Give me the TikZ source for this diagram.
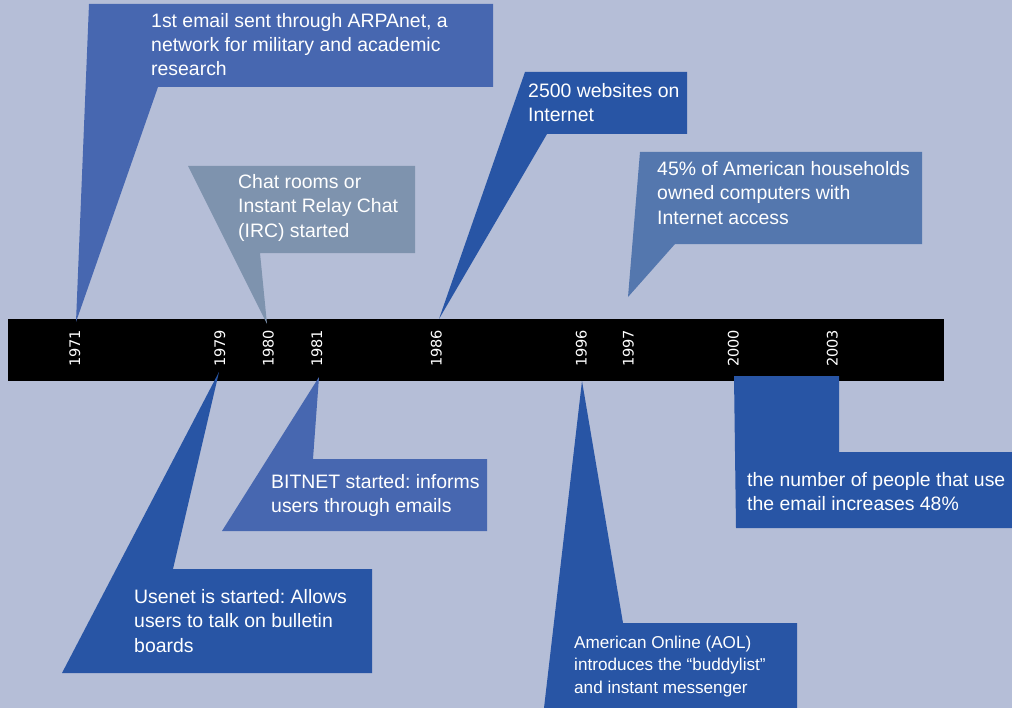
\documentclass[tikz,border=0pt]{standalone}
\usepackage{fontspec}
\setmainfont{Liberation Sans}
\newfontfamily\yearfont{DejaVu Sans}
\usepackage{xcolor}
\usepackage{tikz}
\frenchspacing

\definecolor{bgblue}{HTML}{B5BED7}
\definecolor{midblue}{HTML}{4767B0}
\definecolor{greyblue}{HTML}{7E93AE}
\definecolor{deepblue}{HTML}{2855A5}
\definecolor{softblue}{HTML}{5477AE}

\begin{document}
\begin{tikzpicture}[x=1bp,y=-1bp,
    note/.style={text=white,anchor=base west,align=left,inner sep=0pt,font=\fontsize{19.5}{24.5}\selectfont},
    smallnote/.style={note,font=\fontsize{17.2}{22.7}\selectfont},
    year/.style={text=white,rotate=90,anchor=mid west,inner sep=0pt,font=\yearfont\fontsize{14.6}{14.6}\selectfont}]
            \useasboundingbox (0,0) rectangle (1012,708);
            \fill[bgblue] (0,0) rectangle (1012,708);
            \fill[black] (8,319) rectangle (944,381);

            \draw (76,322) coordinate (t1971);
            \draw (219,372) coordinate (t1979);
            \draw (267,324) coordinate (t1980);
            \draw (319,377) coordinate (t1981);
            \draw (439,319) coordinate (t1986);
            \draw (582,381) coordinate (t1996);
            \draw (628,297) coordinate (t1997);

            \fill[midblue] (89,4)--(493,4)--(493,87)--(158,87)--(t1971)--cycle;
            \fill[greyblue] (188,166)--(415,166)--(415,253)--(260,253)--(t1980)--cycle;
            \fill[deepblue] (525,72)--(687,72)--(687,134)--(547,134)--(t1986)--cycle;
            \fill[softblue] (640,152)--(922,152)--(922,244)--(675,244)--(t1997)--cycle;
            \fill[deepblue] (62,673)--(t1979)--(173,569)--(372,569)--(372,673)--cycle;
            \fill[midblue] (t1981)--(313,459)--(487,459)--(487,531)--(222,531)--cycle;
            \fill[deepblue] (544,708)--(t1996)--(623,623)--(797,623)--(797,708)--cycle;
            \fill[deepblue] (734,376)--(839,376)--(839,452)--(1012,452)--(1012,528)--(736,528)--cycle;

            % anchors sit on the last line's baseline
            \node[note] (arpa) at (151,76) {1st email sent through ARPAnet, a\\network for military and academic\\research};
            \node[note] (chat) at (238,237) {Chat rooms or\\Instant Relay Chat\\(IRC) started};
            \node[note] (web) at (528,121.5) {2500 websites on\\Internet};
            \node[note] (homes) at (657,224) {45\% of American households\\owned computers with\\Internet access};
            \node[note] (usenet) at (134,652) {Usenet is started: Allows\\users to talk on bulletin\\boards};
            \node[note] (bitnet) at (271,512.5) {BITNET started: informs\\users through emails};
            \node[smallnote] (aol) at (574,693.4) {American Online (AOL)\\introduces the “buddylist”\\and instant messenger};
            \node[note] (email) at (747,510.5) {the number of people that use\\the email increases 48\%};

            \foreach \yr/\xx in {1971/77.5,1979/222.5,1980/271,1981/319.5,1986/439,1996/584,1997/631,2000/736,2003/835}
                \node[year] (y\yr) at (\xx,367) {\yr};
        \end{tikzpicture}
\end{document}
